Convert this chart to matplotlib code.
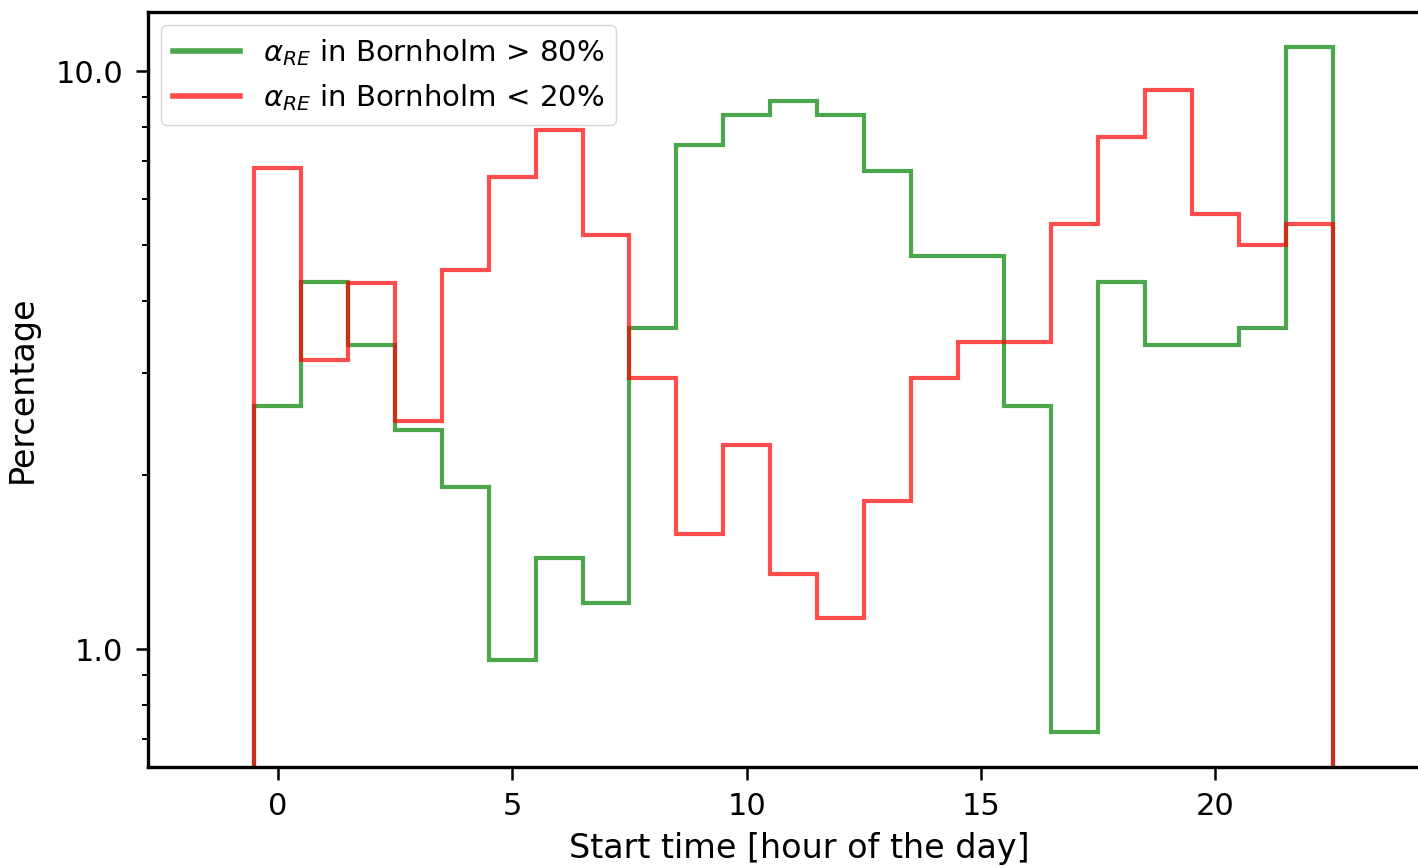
import matplotlib
matplotlib.use('Agg')
import matplotlib.pyplot as plt
from matplotlib.lines import Line2D
from matplotlib.ticker import FormatStrFormatter, NullFormatter
import numpy as np

# hour-of-day bins, percentages
hours = np.arange(23)
edges = np.arange(-0.5, 23.0, 1.0)

high_re = [2.63, 4.31, 3.36, 2.39, 1.91, 0.957, 1.44, 1.20, 3.59, 7.45, 8.39, 8.87,
           8.39, 6.71, 4.79, 4.79, 2.63, 0.718, 4.31, 3.36, 3.36, 3.59, 11.0]
low_re = [6.80, 3.16, 4.30, 2.48, 4.53, 6.56, 7.91, 5.20, 2.94, 1.58, 2.25, 1.35,
          1.13, 1.80, 2.94, 3.40, 3.40, 5.43, 7.69, 9.27, 5.66, 5.00, 5.43]

labels = [r'$\alpha_{RE}$ in Bornholm > 80%', r'$\alpha_{RE}$ in Bornholm < 20%']
colors = ['green', 'red']

fig = plt.figure(figsize=(14.18, 8.66), dpi=100)
ax = fig.add_axes([0.1044, 0.1143, 0.918, 0.8718])

for vals, c in zip([high_re, low_re], colors):
    ax.hist(hours, bins=edges, weights=vals, histtype='step', log=True,
            color=c, alpha=0.7, lw=3)

ax.set_xlim(-2.77, 25.0)
ax.set_ylim(0.625, 12.65)
ax.set_xticks([0, 5, 10, 15, 20])
ax.yaxis.set_major_formatter(FormatStrFormatter('%.1f'))
ax.yaxis.set_minor_formatter(NullFormatter())

ax.tick_params(axis='both', which='major', labelsize=22, length=9, width=1.8, pad=9)
ax.tick_params(axis='y', which='minor', length=4.5, width=1.4)
for s in ax.spines.values():
    s.set_linewidth(2.4)

ax.set_xlabel('Start time [hour of the day]', fontsize=24, labelpad=8)
ax.set_ylabel('Percentage', fontsize=24, labelpad=12)

# legend uses plain line handles like the original
handles = [Line2D([], [], color=c, alpha=0.7, lw=4) for c in colors]
ax.legend(handles, labels, loc='upper left', fontsize=21, borderaxespad=0.45,
          handlelength=2.3)

fig.savefig('out.png', dpi=100)
